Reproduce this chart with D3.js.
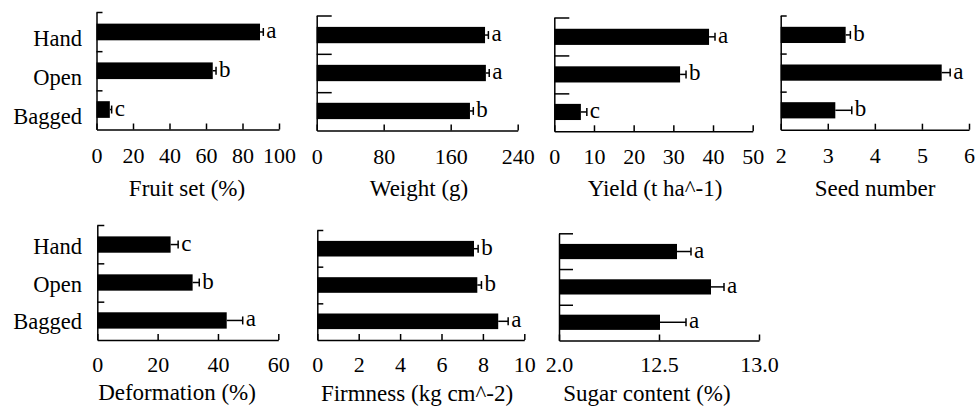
<!DOCTYPE html>
<html lang="en">
<head>
<meta charset="UTF-8">
<title>Pollination treatments</title>
<script src="https://cdn.jsdelivr.net/npm/d3@7"></script>
<style>
  body { margin: 0; background: #fff; }
  svg text { font-family: Liberation Serif, Tinos, DejaVu Serif, serif; }
</style>
</head>
<body>
<script>
// treatments, top to bottom
var categories = ["Hand", "Open", "Bagged"];

// values (mean, error, letter)
var fruitSet = [89.6, 63.7, 7.3];
var fruitSetErr = [1.8, 1.8, 1.0];
var fruitSetLetters = ["a", "b", "c"];
var fruitSetTicks = [0, 20, 40, 60, 80, 100];

var weight = [201, 202, 183];
var weightErr = [4, 4, 4];
var weightLetters = ["a", "a", "b"];
var weightTicks = [0, 80, 160, 240];

var yieldVals = [39.0, 31.7, 6.7];
var yieldErr = [1.5, 1.5, 1.5];
var yieldLetters = ["a", "b", "c"];
var yieldTicks = [0, 10, 20, 30, 40, 50];

var seeds = [3.38, 5.42, 3.16];
var seedsErr = [0.1, 0.18, 0.35];
var seedsLetters = ["b", "a", "b"];
var seedsTicks = [2, 3, 4, 5, 6];

var deformation = [24.3, 31.6, 42.9];
var deformationErr = [2.5, 2.2, 5.3];
var deformationLetters = ["c", "b", "a"];
var deformationTicks = [0, 20, 40, 60];

var firmness = [7.57, 7.73, 8.74];
var firmnessErr = [0.2, 0.2, 0.48];
var firmnessLetters = ["b", "b", "a"];
var firmnessTicks = [0, 2, 4, 6, 8, 10];

var sugar = [12.59, 12.76, 12.505];
var sugarErr = [0.07, 0.065, 0.13];
var sugarLetters = ["a", "a", "a"];
var sugarTicks = [12, 12.5, 13];
var sugarTickLabels = ["2.0", "12.5", "13.0"];

var svg = d3.select("body").append("svg")
    .attr("width", 976)
    .attr("height", 412);

// one panel per measured trait
var panels = [
    {vals: fruitSet, err: fruitSetErr, letters: fruitSetLetters, ticks: fruitSetTicks, domain: [0, 100],
     x0: 96.5, x1: 279, top: 12, bottom: 129.5, ytick: 6, pad: 18, title: "Fruit set (%)", tx: 187, ty: 196, cats: true, catDy: 14.5},
    {vals: weight, err: weightErr, letters: weightLetters, ticks: weightTicks, domain: [0, 240],
     x0: 316.7, x1: 517.7, top: 15.5, bottom: 130.5, ytick: 15, pad: 18, title: "Weight (g)", tx: 419, ty: 196},
    {vals: yieldVals, err: yieldErr, letters: yieldLetters, ticks: yieldTicks, domain: [0, 50],
     x0: 554.3, x1: 752.7, top: 17.5, bottom: 131.3, ytick: 15, pad: 17, title: "Yield (t ha^-1)", tx: 655, ty: 196},
    {vals: seeds, err: seedsErr, letters: seedsLetters, ticks: seedsTicks, domain: [2, 6],
     x0: 780.7, x1: 969, top: 15.5, bottom: 129.7, ytick: 6, pad: 18, title: "Seed number", tx: 875, ty: 196},
    {vals: deformation, err: deformationErr, letters: deformationLetters, ticks: deformationTicks, domain: [0, 60],
     x0: 97.3, x1: 278.3, top: 225, bottom: 340, ytick: 7, pad: 16, title: "Deformation (%)", tx: 177, ty: 400, cats: true, catDy: 9},
    {vals: firmness, err: firmnessErr, letters: firmnessLetters, ticks: firmnessTicks, domain: [0, 10],
     x0: 317.3, x1: 524.3, top: 230, bottom: 340, ytick: 6, pad: 16, title: "Firmness (kg cm^-2)", tx: 417, ty: 401},
    {vals: sugar, err: sugarErr, letters: sugarLetters, ticks: sugarTicks, tickLabels: sugarTickLabels, domain: [12, 13],
     x0: 559, x1: 759, top: 233.3, bottom: 340.5, ytick: 14, pad: 16, title: "Sugar content (%)", tx: 647, ty: 401}
];

function drawPanel(p) {
    var g = svg.append("g");

    var x = d3.scaleLinear().domain(p.domain).range([p.x0, p.x1]);
    var y = d3.scaleBand().domain(categories).range([p.top, p.bottom])
        .paddingInner(0.57).paddingOuter(0.3);
    // band edges for the y axis ticks
    var yEdge = d3.scaleLinear().domain([0, categories.length]).range([p.top, p.bottom]);

    var rows = categories.map(function (c, i) {
        return {cat: c, v: p.vals[i], e: p.err[i], letter: p.letters[i]};
    });

    // bars
    g.selectAll(".bar").data(rows).enter().append("rect")
        .attr("x", x(p.domain[0]))
        .attr("y", function (d) { return y(d.cat); })
        .attr("width", function (d) { return x(d.v) - x(p.domain[0]); })
        .attr("height", y.bandwidth())
        .attr("fill", "#000");

    // error bars
    var eb = g.selectAll(".err").data(rows).enter().append("g")
        .attr("stroke", "#000").attr("stroke-width", 1.5);
    eb.append("line")
        .attr("x1", function (d) { return x(d.v); })
        .attr("x2", function (d) { return x(d.v + d.e); })
        .attr("y1", function (d) { return y(d.cat) + y.bandwidth() / 2; })
        .attr("y2", function (d) { return y(d.cat) + y.bandwidth() / 2; });
    eb.append("line")
        .attr("x1", function (d) { return x(d.v + d.e); })
        .attr("x2", function (d) { return x(d.v + d.e); })
        .attr("y1", function (d) { return y(d.cat) + y.bandwidth() / 2 - 4; })
        .attr("y2", function (d) { return y(d.cat) + y.bandwidth() / 2 + 4; });

    // significance letters
    g.selectAll(".letter").data(rows).enter().append("text")
        .attr("x", function (d) { return x(d.v + d.e) + 3; })
        .attr("y", function (d) { return y(d.cat) + y.bandwidth() / 2 + 6; })
        .attr("font-size", 23)
        .text(function (d) { return d.letter; });

    // x axis, ticks pointing inward
    var labels = p.tickLabels;
    var ax = d3.axisBottom(x).tickValues(p.ticks)
        .tickFormat(function (d, i) { return labels ? labels[i] : d; })
        .tickSizeInner(-6).tickSizeOuter(0).tickPadding(p.pad);
    var gx = g.append("g").attr("transform", "translate(0," + p.bottom + ")").call(ax);
    gx.attr("font-size", 22).attr("font-family", null);
    gx.selectAll("path, line").attr("stroke", "#000").attr("stroke-width", 1.5);
    gx.selectAll("text").attr("fill", "#000");

    // y axis with ticks at band edges
    var ay = d3.axisRight(yEdge).tickValues([0, 1, 2]).tickFormat("")
        .tickSizeInner(p.ytick).tickSizeOuter(0);
    var gy = g.append("g").attr("transform", "translate(" + p.x0 + ",0)").call(ay);
    gy.selectAll("path, line").attr("stroke", "#000").attr("stroke-width", 1.5);

    // category labels only on the left column
    if (p.cats) {
        g.selectAll(".cat").data(categories).enter().append("text")
            .attr("x", 82)
            .attr("y", function (d) { return y(d) + y.bandwidth() / 2 + p.catDy; })
            .attr("text-anchor", "end")
            .attr("font-size", 22.5)
            .text(function (d) { return d; });
    }

    // axis title
    g.append("text")
        .attr("x", p.tx).attr("y", p.ty)
        .attr("text-anchor", "middle")
        .attr("font-size", 23)
        .text(p.title);
}

panels.forEach(drawPanel);
</script>
</body>
</html>
